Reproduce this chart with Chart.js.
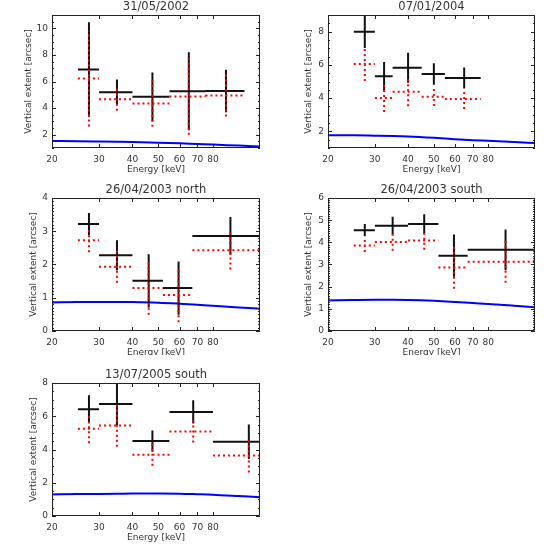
<!DOCTYPE html>
<html><head><meta charset="utf-8">
<script src="https://cdn.jsdelivr.net/npm/chart.js@4.4.1/dist/chart.umd.min.js"></script>
<style>
html,body{margin:0;padding:0;background:#fff;}
#wrap{position:relative;width:550px;height:550px;overflow:hidden;background:#fff;}
.panel{position:absolute;overflow:hidden;}
</style></head><body>
<div id="wrap">
 <div class="panel" style="left:0;top:0;width:275px;height:178px"><canvas id="c1"></canvas></div>
 <div class="panel" style="left:275px;top:0;width:275px;height:178px"><canvas id="c2"></canvas></div>
 <div class="panel" style="left:0;top:183px;width:275px;height:172px"><canvas id="c3"></canvas></div>
 <div class="panel" style="left:275px;top:183px;width:275px;height:172px"><canvas id="c4"></canvas></div>
 <div class="panel" style="left:0;top:368px;width:275px;height:178px"><canvas id="c5"></canvas></div>
</div>
<script>
// ---------------- data ----------------
const energyTicks = [20, 30, 40, 50, 60, 70, 80];
const energyMin = 20, energyMax = 120;
const titles = ['31/05/2002', '07/01/2004', '26/04/2003 north', '26/04/2003 south', '13/07/2005 south'];
const xLabel = 'Energy [keV]';
const yLabel = 'Vertical extent [arcsec]';

// model curve (blue) energies
const modelEnergy = [20, 25, 30, 35, 40, 50, 60, 70, 80, 100, 120];

// Panel 1 : 31/05/2002
const p1BinLow  = [25, 30, 40, 55, 75];
const p1BinHigh = [30, 40, 55, 75, 105];
const p1Energy  = [27.5, 35, 47.5, 65, 89.5];
const p1Black   = [6.9, 5.2, 4.85, 5.27, 5.29];
const p1BlackErr= [3.55, 0.95, 1.83, 2.93, 1.6];
const p1Red     = [6.22, 4.67, 4.35, 4.87, 4.95];
const p1RedErr  = [3.6, 0.87, 1.75, 2.87, 1.58];
const p1Model   = [1.52, 1.51, 1.49, 1.47, 1.45, 1.40, 1.35, 1.30, 1.26, 1.18, 1.12];
const p1YTicks  = [2, 4, 6, 8, 10];
const p1YRange  = [1, 11];

// Panel 2 : 07/01/2004
const p2BinLow  = [25, 30, 35, 45, 55];
const p2BinHigh = [30, 35, 45, 55, 75];
const p2Energy  = [27.5, 32.5, 40, 50, 65];
const p2Black   = [8.0, 5.31, 5.83, 5.45, 5.21];
const p2BlackErr= [0.98, 0.87, 0.9, 0.65, 0.63];
const p2Red     = [6.05, 4.01, 4.39, 4.09, 3.95];
const p2RedErr  = [1.02, 0.85, 0.88, 0.57, 0.6];
const p2Model   = [1.76, 1.76, 1.74, 1.72, 1.69, 1.61, 1.53, 1.47, 1.43, 1.36, 1.30];
const p2YTicks  = [2, 4, 6, 8];
const p2YRange  = [1, 9];

// Panel 3 : 26/04/2003 north
const p3BinLow  = [25, 30, 40, 52, 67];
const p3BinHigh = [30, 40, 52, 67, 130];
const p3Energy  = [27.5, 35, 46, 59.5, 93];
const p3Black   = [3.22, 2.28, 1.51, 1.29, 2.86];
const p3BlackErr= [0.33, 0.45, 0.8, 0.8, 0.57];
const p3Red     = [2.73, 1.93, 1.29, 1.08, 2.43];
const p3RedErr  = [0.36, 0.48, 0.8, 0.82, 0.58];
const p3Model   = [0.86, 0.87, 0.875, 0.875, 0.87, 0.85, 0.82, 0.79, 0.76, 0.71, 0.67];
const p3YTicks  = [0, 1, 2, 3, 4];
const p3YRange  = [0, 4];

// Panel 4 : 26/04/2003 south
const p4BinLow  = [25, 30, 40, 52, 67];
const p4BinHigh = [30, 40, 52, 67, 130];
const p4Energy  = [27.5, 35, 46, 59.5, 93];
const p4Black   = [4.55, 4.75, 4.83, 3.40, 3.66];
const p4BlackErr= [0.28, 0.4, 0.44, 0.95, 0.92];
const p4Red     = [3.86, 4.02, 4.08, 2.87, 3.12];
const p4RedErr  = [0.3, 0.4, 0.42, 0.96, 0.94];
const p4Model   = [1.38, 1.40, 1.41, 1.41, 1.40, 1.36, 1.31, 1.26, 1.22, 1.14, 1.07];
const p4YTicks  = [0, 1, 2, 3, 4, 5, 6];
const p4YRange  = [0, 6];

// Panel 5 : 13/07/2005 south
const p5BinLow  = [25, 30, 40, 55, 80];
const p5BinHigh = [30, 40, 55, 80, 140];
const p5Energy  = [27.5, 35, 47.5, 67.5, 109];
const p5Black   = [6.42, 6.73, 4.51, 6.26, 4.47];
const p5BlackErr= [0.84, 1.25, 0.64, 0.7, 1.04];
const p5Red     = [5.25, 5.45, 3.68, 5.08, 3.64];
const p5RedErr  = [0.88, 1.28, 0.66, 0.66, 1.03];
const p5Model   = [1.30, 1.32, 1.33, 1.34, 1.35, 1.35, 1.34, 1.31, 1.28, 1.20, 1.13];
const p5YTicks  = [0, 2, 4, 6, 8];
const p5YRange  = [0, 8];

// ---------------- drawing ----------------
const FONT = 'DejaVu Sans';
const TXT = '#333';

function crossSegments(low, high, center, value, err) {
  const pts = [];
  for (let i = 0; i < value.length; i++) {
    pts.push({x: low[i], y: value[i]}, {x: high[i], y: value[i]}, {x: null, y: null});
    pts.push({x: center[i], y: value[i] - err[i]}, {x: center[i], y: value[i] + err[i]}, {x: null, y: null});
  }
  return pts;
}

const framePlugin = {
  id: 'frame',
  afterDatasetsDraw(chart, args, opts) {
    const {ctx, chartArea: a, scales: {x, y}} = chart;
    ctx.save();
    ctx.strokeStyle = '#222';
    ctx.lineWidth = 1;
    ctx.beginPath();
    ctx.rect(Math.round(a.left) + 0.5, Math.round(a.top) + 0.5, Math.round(a.right - a.left) - 1, Math.round(a.bottom - a.top) - 1);
    x.ticks.forEach(t => {
      const px = Math.round(x.getPixelForValue(t.value)) + 0.5;
      ctx.moveTo(px, a.bottom); ctx.lineTo(px, a.bottom - 4);
      ctx.moveTo(px, a.top); ctx.lineTo(px, a.top + 4);
    });
    const step = opts.step, st = step / opts.minor;
    const start = Math.ceil(y.min / st - 1e-6) * st;
    for (let v = start; v <= y.max + 1e-6; v += st) {
      const r = v / step;
      const major = Math.abs(r - Math.round(r)) < 1e-6;
      const len = major ? 4 : 2;
      const py = Math.round(y.getPixelForValue(v)) + 0.5;
      ctx.moveTo(a.left, py); ctx.lineTo(a.left + len, py);
      ctx.moveTo(a.right, py); ctx.lineTo(a.right - len, py);
    }
    ctx.stroke();
    ctx.restore();
  }
};

function makePanel(id, p) {
  const cv = document.getElementById(id);
  cv.width = 275; cv.height = 178;
  cv.style.width = '275px'; cv.style.height = '178px';
  new Chart(cv.getContext('2d'), {
    type: 'scatter',
    data: {
      datasets: [
        {label: 'red', data: crossSegments(p.low, p.high, p.energy, p.red, p.redErr), showLine: true,
         borderColor: '#ff0000', borderWidth: 2, borderDash: [2, 3], pointRadius: 0, spanGaps: false},
        {label: 'black', data: crossSegments(p.low, p.high, p.energy, p.black, p.blackErr), showLine: true,
         borderColor: '#111', borderWidth: 2, pointRadius: 0, spanGaps: false},
        {label: 'model', data: modelEnergy.map((e, i) => ({x: e, y: p.model[i]})), showLine: true,
         borderColor: '#0000ff', borderWidth: 2, pointRadius: 0, cubicInterpolationMode: 'monotone'}
      ]
    },
    options: {
      responsive: false, animation: false, devicePixelRatio: 1,
      layout: {padding: {left: 0, right: 15, top: 0, bottom: 0}},
      plugins: {
        legend: {display: false}, tooltip: {enabled: false},
        title: {display: true, text: p.title, fullSize: false, color: TXT,
                font: {family: FONT, size: 11.5, weight: 'normal'}, padding: {top: 0, bottom: 1.2}},
        frame: {step: p.yTicks[1] - p.yTicks[0], minor: p.minor}
      },
      scales: {
        x: {
          type: 'logarithmic', min: energyMin, max: energyMax,
          afterBuildTicks: s => { s.ticks = energyTicks.map(v => ({value: v})); },
          afterFit: s => { s.height = 30; },
          grid: {display: false, drawTicks: false}, border: {display: false},
          ticks: {autoSkip: false, maxRotation: 0, color: TXT, padding: 6, font: {family: FONT, size: 9},
                  callback: v => String(v)},
          title: {display: true, text: xLabel, color: TXT, font: {family: FONT, size: 9}, padding: {top: 0, bottom: 3}}
        },
        y: {
          type: 'linear', min: p.yRange[0], max: p.yRange[1],
          afterBuildTicks: s => { s.ticks = p.yTicks.map(v => ({value: v})); },
          afterFit: s => { s.width = p.left; },
          grid: {display: false, drawTicks: false}, border: {display: false},
          ticks: {color: TXT, padding: 4, font: {family: FONT, size: 9}, callback: v => String(v)},
          title: {display: true, text: yLabel, color: TXT, font: {family: FONT, size: 9}, padding: {top: p.yTitlePad, bottom: 0}}
        }
      }
    },
    plugins: [framePlugin]
  });
}

makePanel('c1', {title: titles[0], low: p1BinLow, high: p1BinHigh, energy: p1Energy, black: p1Black, blackErr: p1BlackErr,
  red: p1Red, redErr: p1RedErr, model: p1Model, yTicks: p1YTicks, yRange: p1YRange, minor: 4, left: 52, yTitlePad: 23});
makePanel('c2', {title: titles[1], low: p2BinLow, high: p2BinHigh, energy: p2Energy, black: p2Black, blackErr: p2BlackErr,
  red: p2Red, redErr: p2RedErr, model: p2Model, yTicks: p2YTicks, yRange: p2YRange, minor: 4, left: 53, yTitlePad: 28});
makePanel('c3', {title: titles[2], low: p3BinLow, high: p3BinHigh, energy: p3Energy, black: p3Black, blackErr: p3BlackErr,
  red: p3Red, redErr: p3RedErr, model: p3Model, yTicks: p3YTicks, yRange: p3YRange, minor: 10, left: 52, yTitlePad: 28});
makePanel('c4', {title: titles[3], low: p4BinLow, high: p4BinHigh, energy: p4Energy, black: p4Black, blackErr: p4BlackErr,
  red: p4Red, redErr: p4RedErr, model: p4Model, yTicks: p4YTicks, yRange: p4YRange, minor: 10, left: 53, yTitlePad: 28});
makePanel('c5', {title: titles[4], low: p5BinLow, high: p5BinHigh, energy: p5Energy, black: p5Black, blackErr: p5BlackErr,
  red: p5Red, redErr: p5RedErr, model: p5Model, yTicks: p5YTicks, yRange: p5YRange, minor: 4, left: 52, yTitlePad: 28});
</script>
</body></html>
